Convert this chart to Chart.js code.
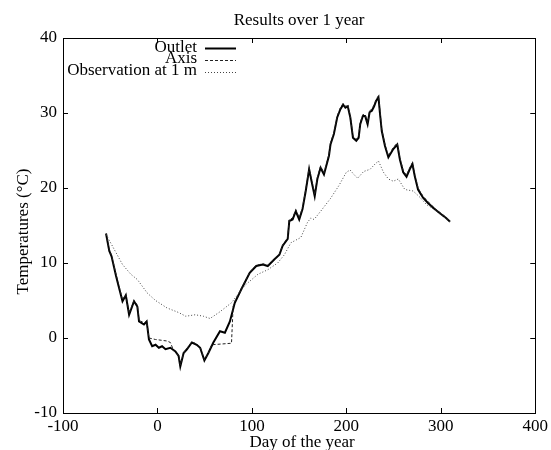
<!DOCTYPE html>
<html>
<head>
<meta charset="utf-8">
<script src="https://cdn.jsdelivr.net/npm/chart.js@4.4.1/dist/chart.umd.min.js"></script>
<style>
  body { margin: 0; background: #fff; }
  #chart { display: block; }
</style>
</head>
<body>
<canvas id="chart" width="551" height="450"></canvas>
<script>
// Datos
const outletX = [-54.4, -51, -48.6, -43.9, -41.5, -37, -33.5, -30, -24.8, -21.3, -19.5, -14.3, -11.4, -9, -5.6, -2, 1.5, 4.9, 8.5, 13.7, 19, 22.4, 24.2, 27.7, 31.2, 36.4, 41.6, 45.2, 49.7, 53.9, 59.2, 66.2, 71.4, 76.7, 81.9, 88.8, 97.7, 104.6, 111.6, 116.8, 123.9, 129.1, 132.6, 137.9, 139.6, 143.1, 146.5, 150.1, 153.6, 157, 160.6, 163, 166.5, 169.3, 172.7, 176.3, 181.6, 183.2, 186.8, 190.3, 193.7, 196.6, 199, 201.5, 204.2, 207, 210.5, 213, 214.7, 217.5, 219.9, 222.5, 224.6, 227, 229.4, 231.5, 234, 235.7, 237.5, 240.9, 244.5, 249.7, 253.9, 256.7, 260.2, 263.7, 267.1, 270, 272.4, 275.9, 281.2, 286.4, 293.4, 300.4, 305.6, 309.8];
const outletY = [13.9, 11.6, 10.9, 8.3, 7.1, 4.9, 5.7, 3.1, 4.9, 4.2, 2.2, 1.8, 2.2, -0.2, -1.1, -0.9, -1.3, -1.1, -1.5, -1.3, -1.8, -2.4, -3.8, -2.0, -1.5, -0.6, -0.9, -1.3, -3.0, -2.0, -0.6, 0.9, 0.7, 2.2, 4.7, 6.5, 8.7, 9.6, 9.8, 9.6, 10.5, 11.1, 12.3, 13.2, 15.6, 15.8, 16.9, 15.8, 17.2, 19.6, 22.5, 21.0, 18.9, 21.2, 22.7, 21.8, 24.3, 25.8, 27.2, 29.4, 30.5, 31.1, 30.7, 30.9, 29.4, 26.7, 26.3, 26.7, 28.5, 29.6, 29.6, 28.5, 30.1, 30.3, 30.9, 31.6, 32.1, 29.8, 27.6, 25.6, 24.1, 25.2, 25.8, 23.8, 22.1, 21.5, 22.5, 23.2, 21.6, 19.8, 18.7, 18.0, 17.2, 16.5, 16.0, 15.5];

const axisX = [-54.4, -51, -48.6, -43.9, -41.5, -37, -33.5, -30, -24.8, -21.3, -19.5, -14.3, -11.4, -9, -2, 10.2, 13.7, 17.2, 22.4, 24.2, 27.7, 31.2, 36.4, 41.6, 45.2, 49.7, 53.9, 57.4, 78.4, 80.1, 81.9, 88.8, 97.7, 104.6, 111.6, 116.8, 123.9, 129.1, 132.6, 137.9, 139.6, 143.1, 146.5, 150.1, 153.6, 157, 160.6, 163, 166.5, 169.3, 172.7, 176.3, 181.6, 183.2, 186.8, 190.3, 193.7, 196.6, 199, 201.5, 204.2, 207, 210.5, 213, 214.7, 217.5, 219.9, 222.5, 224.6, 227, 229.4, 231.5, 234, 235.7, 237.5, 240.9, 244.5, 249.7, 253.9, 256.7, 260.2, 263.7, 267.1, 270, 272.4, 275.9, 281.2, 286.4, 293.4, 300.4, 305.6, 309.8];
const axisY = [14.0, 11.8, 11.0, 8.5, 7.3, 5.1, 5.8, 3.3, 5.0, 4.4, 2.4, 2.0, 2.3, 0.0, -0.2, -0.4, -0.6, -1.7, -2.3, -3.6, -2.0, -1.4, -0.5, -0.8, -1.2, -2.9, -2.0, -0.9, -0.7, 4.2, 4.9, 6.6, 8.8, 9.7, 9.9, 9.7, 10.6, 11.2, 12.4, 13.4, 15.8, 16.0, 17.1, 16.0, 17.4, 19.8, 22.7, 21.3, 19.1, 21.4, 22.9, 22.0, 24.5, 26.0, 27.4, 29.6, 30.7, 31.3, 30.9, 31.1, 29.6, 26.9, 26.5, 26.9, 28.7, 29.8, 29.8, 28.7, 30.3, 30.5, 31.1, 31.8, 32.3, 30.1, 27.8, 25.8, 24.3, 25.4, 26.0, 24.0, 22.3, 21.7, 22.7, 23.4, 21.8, 20.0, 18.9, 18.2, 17.3, 16.6, 16.1, 15.6];

const obsX = [-54.4, -45.7, -37, -28.2, -21.3, -10.8, -2, 10.2, 22.4, 30, 40, 48.7, 55.7, 66.2, 78.4, 92.4, 106.4, 116.8, 127.3, 134.4, 141.3, 151.8, 158.8, 162.3, 165.8, 172.8, 183.2, 192, 200, 204, 208, 212, 218.3, 225.2, 230.4, 234, 239.3, 244.5, 249.7, 255, 261.9, 270.7, 277.6, 284.7, 293.4, 300.4, 305.6, 309.8];
const obsY = [13.8, 11.8, 9.8, 8.5, 7.8, 6.0, 5.0, 4.0, 3.4, 2.9, 3.1, 2.9, 2.6, 3.5, 4.7, 7.0, 8.5, 9.1, 10.0, 11.1, 12.7, 13.4, 15.4, 16.0, 15.8, 16.9, 18.6, 20.3, 22.1, 22.4, 21.8, 21.3, 22.2, 22.5, 23.2, 23.6, 22.1, 21.2, 20.9, 21.2, 19.8, 19.6, 18.8, 17.8, 17.1, 16.4, 15.9, 15.5];

const xTicks = [-100, 0, 100, 200, 300, 400];
const yTicks = [-10, 0, 10, 20, 30, 40];

const FUENTE = '"Liberation Serif", "DejaVu Serif", serif';

const puntos = (xs, ys) => xs.map((x, i) => ({ x: x, y: ys[i] }));

// marco, marcas hacia dentro, titulos y leyenda al estilo gnuplot
const estiloGnuplot = {
    id: 'estiloGnuplot',
    afterDraw(chart) {
        const ctx = chart.ctx;
        const a = chart.chartArea;
        const sx = chart.scales.x;
        const sy = chart.scales.y;
        ctx.save();
        ctx.strokeStyle = '#000';
        ctx.lineWidth = 1;
        ctx.setLineDash([]);
        ctx.strokeRect(Math.round(a.left) + 0.5, Math.round(a.top) + 0.5,
            Math.round(a.right - a.left), Math.round(a.bottom - a.top));

        const largo = 5;
        ctx.beginPath();
        sx.ticks.forEach((t) => {
            const px = Math.round(sx.getPixelForValue(t.value)) + 0.5;
            ctx.moveTo(px, a.bottom); ctx.lineTo(px, a.bottom - largo);
            ctx.moveTo(px, a.top); ctx.lineTo(px, a.top + largo);
        });
        sy.ticks.forEach((t) => {
            const py = Math.round(sy.getPixelForValue(t.value)) + 0.5;
            ctx.moveTo(a.left, py); ctx.lineTo(a.left + largo, py);
            ctx.moveTo(a.right, py); ctx.lineTo(a.right - largo, py);
        });
        ctx.stroke();

        ctx.fillStyle = '#000';
        ctx.font = '17px ' + FUENTE;
        ctx.textAlign = 'center';
        ctx.textBaseline = 'alphabetic';
        const centro = (a.left + a.right) / 2;
        ctx.fillText('Results over 1 year', centro, 25);
        ctx.fillText('Day of the year', centro + 3, 447);

        ctx.save();
        ctx.translate(28, (a.top + a.bottom) / 2 + 6);
        ctx.rotate(-Math.PI / 2);
        ctx.fillText('Temperatures (°C)', 0, 0);
        ctx.restore();

        // leyenda
        ctx.textAlign = 'right';
        const filas = [13.7, 25.3, 37];
        chart.data.datasets.forEach((ds, i) => {
            const base = a.top + filas[i];
            ctx.fillStyle = '#000';
            ctx.fillText(ds.label, a.left + 134, base);
            ctx.beginPath();
            ctx.strokeStyle = ds.borderColor;
            ctx.lineWidth = ds.borderWidth;
            ctx.setLineDash(ds.borderDash || []);
            const ly = Math.round(base - 3.5) + 0.5;
            ctx.moveTo(a.left + 142, ly);
            ctx.lineTo(a.left + 173, ly);
            ctx.stroke();
        });
        ctx.restore();
    }
};

const ctx = document.getElementById('chart').getContext('2d');
new Chart(ctx, {
    type: 'scatter',
    data: {
        datasets: [{
            label: 'Outlet',
            data: puntos(outletX, outletY),
            borderColor: '#000',
            borderWidth: 2,
            showLine: true,
            pointRadius: 0,
            order: 3
        }, {
            label: 'Axis',
            data: puntos(axisX, axisY),
            borderColor: '#222',
            borderWidth: 1,
            borderDash: [3, 2],
            showLine: true,
            pointRadius: 0,
            order: 2
        }, {
            label: 'Observation at 1 m',
            data: puntos(obsX, obsY),
            borderColor: '#444',
            borderWidth: 1,
            borderDash: [1, 2],
            showLine: true,
            pointRadius: 0,
            order: 1
        }]
    },
    options: {
        responsive: false,
        animation: false,
        layout: { padding: { top: 38, right: 11, left: 0, bottom: 0 } },
        plugins: {
            legend: { display: false },
            tooltip: { enabled: false },
            title: { display: false }
        },
        scales: {
            x: {
                type: 'linear',
                min: -100,
                max: 400,
                afterBuildTicks: (scale) => { scale.ticks = xTicks.map((v) => ({ value: v })); },
                afterFit: (scale) => { scale.height = 37; },
                grid: { display: false, drawTicks: false },
                border: { display: false },
                ticks: {
                    color: '#000',
                    font: { family: FUENTE, size: 17 },
                    padding: 3,
                    maxRotation: 0,
                    autoSkip: false
                }
            },
            y: {
                type: 'linear',
                min: -10,
                max: 40,
                afterBuildTicks: (scale) => { scale.ticks = yTicks.map((v) => ({ value: v })); },
                afterFit: (scale) => { scale.width = 63; },
                grid: { display: false, drawTicks: false },
                border: { display: false },
                ticks: {
                    color: '#000',
                    font: { family: FUENTE, size: 17 },
                    padding: 6,
                    autoSkip: false
                }
            }
        }
    },
    plugins: [estiloGnuplot]
});
</script>
</body>
</html>
